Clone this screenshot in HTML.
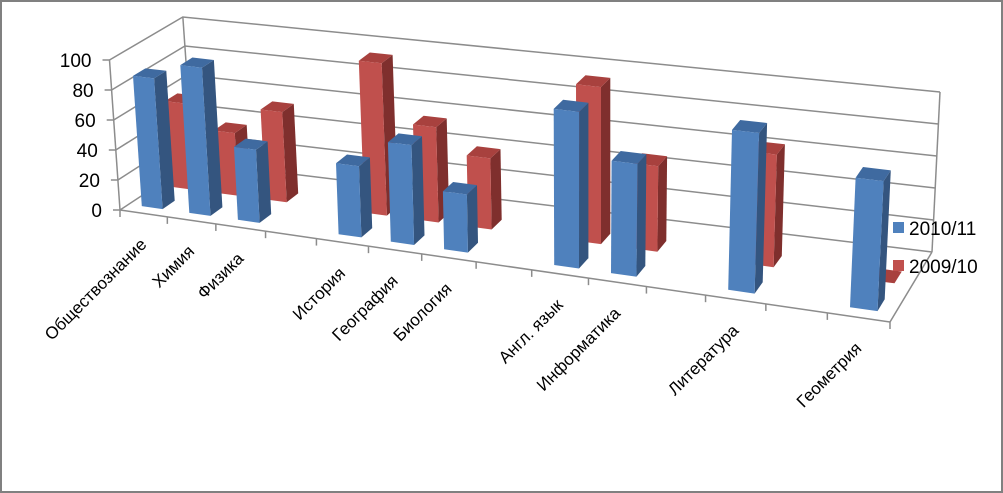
<!DOCTYPE html>
<html><head><meta charset="utf-8"><style>
html,body{margin:0;padding:0;background:#fff}
svg{display:block;font-family:"Liberation Sans","DejaVu Sans",sans-serif}
</style></head><body>
<svg id="chart" width="1003" height="493" viewBox="0 0 1003 493" xmlns="http://www.w3.org/2000/svg">
<rect x="1" y="1" width="1001" height="491" fill="#fff" stroke="#808080" stroke-width="2"/>
<g id="grid"></g>
<g id="bars"></g>
<g id="labels"></g>
<g id="yaxis"></g>
<g>
<g><rect x="893" y="222" width="11" height="11" fill="#4F81BD"/><text x="909" y="235" font-size="19" fill="#000">2010/11</text></g>
<g><rect x="893" y="260" width="11" height="11" fill="#C0504D"/><text x="909" y="273" font-size="19" fill="#000">2009/10</text></g>
</g>
</svg>
<script>
const categories = ["Обществознание","Химия","Физика","","История","География","Биология","","Англ. язык","Информатика","","Литература","","Геометрия"];
const series2010 = [87,98,48,null,46,64,37,null,98,70,null,98,null,78];
const series2009 = [58,42,60,null,100,62,46,null,100,54,null,70,null,0];
const yTicks = [0,20,40,60,80,100];

const NS="http://www.w3.org/2000/svg";
const N=categories.length;
function g(t){return t+0.15*t*(t-1);}
function P(t,d){const G=g(t);const fx=120+770*G,fy=210+112*G,bx=193+739*G,by=162+90*G;return [fx+(bx-fx)*d,fy+(by-fy)*d];}
function S(t,d){const G=g(t);const f=150+18*G,b=145+15*G;return (f+(b-f)*d)/100;}
function K(t){return -0.07+0.12*g(t);}
function pt(t,d,v){const p=P(t,d);const h=v*S(t,d);return [p[0]+K(t)*h,p[1]-h];}
function mk(tag,attrs,parent){const e=document.createElementNS(NS,tag);for(const k in attrs)e.setAttribute(k,attrs[k]);parent.appendChild(e);return e;}
function poly(pts){return pts.map(p=>p[0].toFixed(1)+","+p[1].toFixed(1)).join(" ");}

const grid=document.getElementById('grid');
yTicks.forEach(v=>{
  const a=pt(0,0,v),b=pt(0,1,v),c=pt(1,1,v);
  const l=mk('polyline',{points:poly([a,b,c]),fill:'none',stroke:'#8c8c8c','stroke-width':1.5},grid);
  
  
});
[[pt(0,0,0),pt(0,0,100)],[pt(0,1,0),pt(0,1,100)],[pt(1,1,0),pt(1,1,100)],[pt(0,0,0),pt(1,0,0)],[pt(1,0,0),pt(1,1,0)]].forEach((s,i)=>{
  const l=mk('line',{x1:s[0][0],y1:s[0][1],x2:s[1][0],y2:s[1][1],stroke:'#8c8c8c','stroke-width':1.5},grid);
  
  
});
for(let i=0;i<=N;i++){
  const p=P(i/N,0);
  const l=mk('line',{x1:p[0],y1:p[1],x2:p[0],y2:p[1]+7,stroke:'#8c8c8c','stroke-width':1.5},grid);
  
  
}

const yaxis=document.getElementById('yaxis');
yTicks.forEach(v=>{
  const p=pt(0,0,v);
  const l=mk('line',{x1:p[0]-7,y1:p[1],x2:p[0],y2:p[1],stroke:'#8c8c8c','stroke-width':1.5},yaxis);
  
  
  const t=mk('text',{x:p[0]-18,y:p[1]+7,'font-size':19,'text-anchor':'end',fill:'#000'},yaxis);
  t.textContent=v;
  
  
});

const bars=document.getElementById('bars');
const hw=0.22/N;
function drawBar(i,v,d0,d1,cols,name){
  if(v===null)return;
  const t=(i+0.5)/N,tl=t-hw,tr=t+hw;
  const grp=mk('g',{},bars);
  
  
  const fbl=pt(tl,d0,0),fbr=pt(tr,d0,0),ftl=pt(tl,d0,v),ftr=pt(tr,d0,v);
  const bbr=pt(tr,d1,0),btr=pt(tr,d1,v),btl=pt(tl,d1,v);
  mk('polygon',{points:poly([fbr,bbr,btr,ftr]),fill:cols[1]},grp);
  mk('polygon',{points:poly([ftl,ftr,btr,btl]),fill:cols[2]},grp);
  mk('polygon',{points:poly([fbl,fbr,ftr,ftl]),fill:cols[0]},grp);
}
series2009.forEach((v,i)=>drawBar(i,v,0.52,0.69,['#C0504D','#7F2F2D','#A8413E'],'bar-2009-10'));
series2010.forEach((v,i)=>drawBar(i,v,0.12,0.29,['#4F81BD','#34557F','#3F6AA0'],'bar-2010-11'));

const labels=document.getElementById('labels');
categories.forEach((c,i)=>{
  if(!c)return;
  const p=P((i+0.5)/N,0);
  const x=p[0]+4,y=p[1]+32;
  const t=mk('text',{x:x,y:y,'font-size':17,'text-anchor':'end',fill:'#000',transform:'rotate(-45 '+x+' '+y+')'},labels);
  t.textContent=c;
  
  
});
</script>
</body></html>
